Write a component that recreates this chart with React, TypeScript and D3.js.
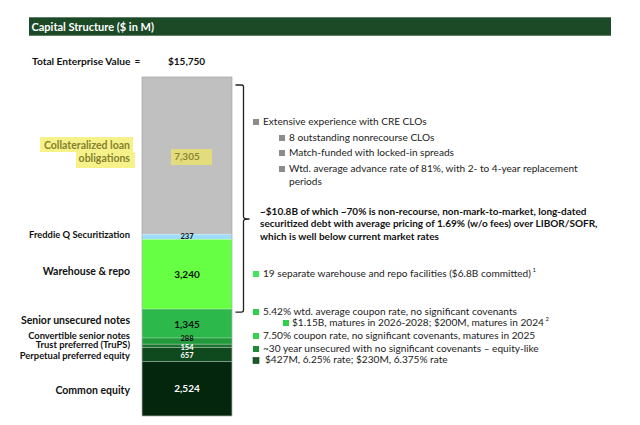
import React from 'react';
import * as d3 from 'd3';

// capital stack, top to bottom ($M)
const segments = [
  'Collateralized loan obligations',
  'Freddie Q Securitization',
  'Warehouse & repo',
  'Senior unsecured notes',
  'Convertible senior notes',
  'Trust preferred (TruPS)',
  'Perpetual preferred equity',
  'Common equity',
];
const values = [7305, 237, 3240, 1345, 288, 154, 657, 2524];
const valueLabels = ['7,305', '237', '3,240', '1,345', '288', '154', '657', '2,524'];
const segColors = ['#c0c0c0', '#9fdcf7', '#66ff44', '#2cb84a', '#229a3c', '#19742e', '#0f4a1e', '#04260c'];
const totalLabel = '$15,750';

const notes = [
  { text: 'Extensive experience with CRE CLOs', level: 0, bullet: '#8c8c8c' },
  { text: '8 outstanding nonrecourse CLOs', level: 1, bullet: '#8c8c8c' },
  { text: 'Match-funded with locked-in spreads', level: 1, bullet: '#8c8c8c' },
  { text: 'Wtd. average advance rate of 81%, with 2- to 4-year replacement', level: 1, bullet: '#8c8c8c' },
  { text: 'periods', level: 1, bullet: null },
  { text: '19 separate warehouse and repo facilities ($6.8B committed)', level: 0, bullet: '#3ee85a', sup: '1' },
  { text: '5.42% wtd. average coupon rate, no significant covenants', level: 0, bullet: '#2ed04c' },
  { text: '$1.15B, matures in 2026-2028; $200M, matures in 2024', level: 2, bullet: '#2ed04c', sup: '2' },
  { text: '7.50% coupon rate, no significant covenants, matures in 2025', level: 0, bullet: '#35d352' },
  { text: '~30 year unsecured with no significant covenants \u2013 equity-like', level: 0, bullet: '#1f8a35' },
  { text: '$427M, 6.25% rate; $230M, 6.375% rate', level: 3, bullet: '#1a5a26' },
];
const noteY = [122, 138, 153, 169, 182, 274, 312, 323, 336, 349, 360.5];

const bracketText = [
  '~$10.8B of which ~70% is non-recourse, non-mark-to-market, long-dated',
  'securitized debt with average pricing of 1.69% (w/o fees) over LIBOR/SOFR,',
  'which is well below current market rates',
];

// label nudges (px) relative to segment centre
const labelDy = [-3, -1.5, -2, -2.5, -5, 0, 1.5, 2];
const valueDy = [1.5, 0, 1, 1.5, -2, 1.8, 1.5, 1];

const font = 'Lato, "Open Sans", sans-serif';

export default function App() {
  const width = 640;
  const height = 425;
  const total = d3.sum(values);

  const y = d3.scaleLinear().domain([0, total]).range([77, 416]);
  const x = d3.scaleBand().domain(['stack']).range([142, 232]).padding(0);

  const starts = d3.cumsum([0, ...values]);
  const bars = values.map((v, i) => ({
    name: segments[i],
    y0: y(starts[i]),
    y1: y(starts[i] + v),
    color: segColors[i],
    label: valueLabels[i],
  }));

  const bx = x('stack') as number;
  const bw = x.bandwidth();
  const cx = bx + bw / 2;

  // brace spans CLO -> warehouse
  const braceTop = 85;
  const braceBot = y(starts[3]) + 3;
  const braceX = 243.5;
  const braceMid = 219;

  return (
    <svg width={width} height={height} style={{ position: 'absolute', left: 0, top: 0, background: '#fff' }}>
      {/* header */}
      <rect x={29} y={17.3} width={582} height={18.4} fill="#1c4a27" />
      <text x={31.5} y={30.5} fill="#fff" fontFamily={font} fontWeight="bold" fontSize={11}>
        Capital Structure ($ in M)
      </text>

      <text x={32} y={64.5} fill="#111" fontFamily={font} fontWeight="bold" fontSize={10.2}>
        Total Enterprise Value
      </text>
      <text x={134.5} y={64.5} fill="#111" fontFamily={font} fontWeight="bold" fontSize={10}>=</text>
      <text x={168} y={64.5} fill="#111" fontFamily={font} fontWeight="bold" fontSize={10}>
        {totalLabel}
      </text>

      {/* stacked bar */}
      <g>
        {bars.map((b, i) => (
          <rect key={i} x={bx} y={b.y0} width={bw} height={b.y1 - b.y0} fill={b.color}
            stroke={i === 0 ? 'none' : 'rgba(255,255,255,0.3)'} strokeWidth={0.8} />
        ))}
        <rect x={bx} y={y(0)} width={bw} height={y(total) - y(0)} fill="none" stroke="#9a9a9a" strokeWidth={0.6} />
      </g>

      {/* highlights */}
      <rect x={40} y={137} width={93} height={15} fill="#f6f189" />
      <rect x={76} y={152} width={59} height={16} fill="#f6f189" />
      <rect x={171} y={149} width={41} height={16} fill="#e3dc7c" />

      {/* value labels */}
      {bars.map((b, i) => {
        const small = (values[i] < 700);
        const light = i >= 5;
        let fill = light ? '#fff' : '#111';
        if (i === 0) fill = '#8a8732';
        return (
          <text key={i} x={cx} y={(b.y0 + b.y1) / 2 + valueDy[i]} textAnchor="middle" dominantBaseline="middle"
            fontFamily={font} fontWeight="bold" fontSize={small ? 7.6 : 10} fill={fill}>
            {b.label}
          </text>
        );
      })}

      {/* segment labels */}
      {bars.map((b, i) => {
        const yc = (b.y0 + b.y1) / 2 + labelDy[i];
        const small = [1, 4, 5, 6].includes(i);
        if (i === 0) {
          return (
            <text key={i} textAnchor="end" fontFamily={font} fontWeight="bold" fontSize={10.5} fill="#85822e">
              <tspan x={130} y={yc - 6.5} dominantBaseline="middle">Collateralized loan</tspan>
              <tspan x={130} y={yc + 6.5} dominantBaseline="middle">obligations</tspan>
            </text>
          );
        }
        return (
          <text key={i} x={130} y={yc} textAnchor="end" dominantBaseline="middle"
            fontFamily={font} fontWeight="bold" fontSize={small ? 9.4 : 10.5} fill="#111">
            {b.name}
          </text>
        );
      })}

      {/* brace */}
      <path
        d={`M${braceX - 8},${braceTop} L${braceX - 2},${braceTop} Q${braceX},${braceTop} ${braceX},${braceTop + 2}
            L${braceX},${braceMid - 2} Q${braceX},${braceMid} ${braceX + 6},${braceMid}
            Q${braceX},${braceMid} ${braceX},${braceMid + 2}
            L${braceX},${braceBot - 2} Q${braceX},${braceBot} ${braceX - 2},${braceBot} L${braceX - 8},${braceBot}`}
        fill="none" stroke="#222" strokeWidth={1.3} />

      {/* notes */}
      {notes.map((n, i) => {
        const bxp = n.level === 1 ? 279 : n.level === 2 ? 283 : 253;
        const tx = n.level === 1 ? 289 : n.level === 2 ? 292 : n.level === 3 ? 265 : 263;
        const yy = noteY[i];
        return (
          <g key={i}>
            {n.bullet && <rect x={bxp} y={yy - 3} width={6} height={6} fill={n.bullet}
              stroke={i === 10 ? '#0c3a16' : 'none'} strokeWidth={0.6} />}
            <text x={tx} y={yy} dominantBaseline="middle" fontFamily={font} fontSize={10.1} fill="#222">
              {n.text}
              {n.sup && <tspan fontSize={6} dy={-4}>{' ' + n.sup}</tspan>}
            </text>
          </g>
        );
      })}

      {bracketText.map((t, i) => (
        <text key={i} x={260} y={212 + i * 12.5} dominantBaseline="middle" fontFamily={font}
          fontWeight="bold" fontSize={10} fill="#111">
          {t}
        </text>
      ))}
    </svg>
  );
}
